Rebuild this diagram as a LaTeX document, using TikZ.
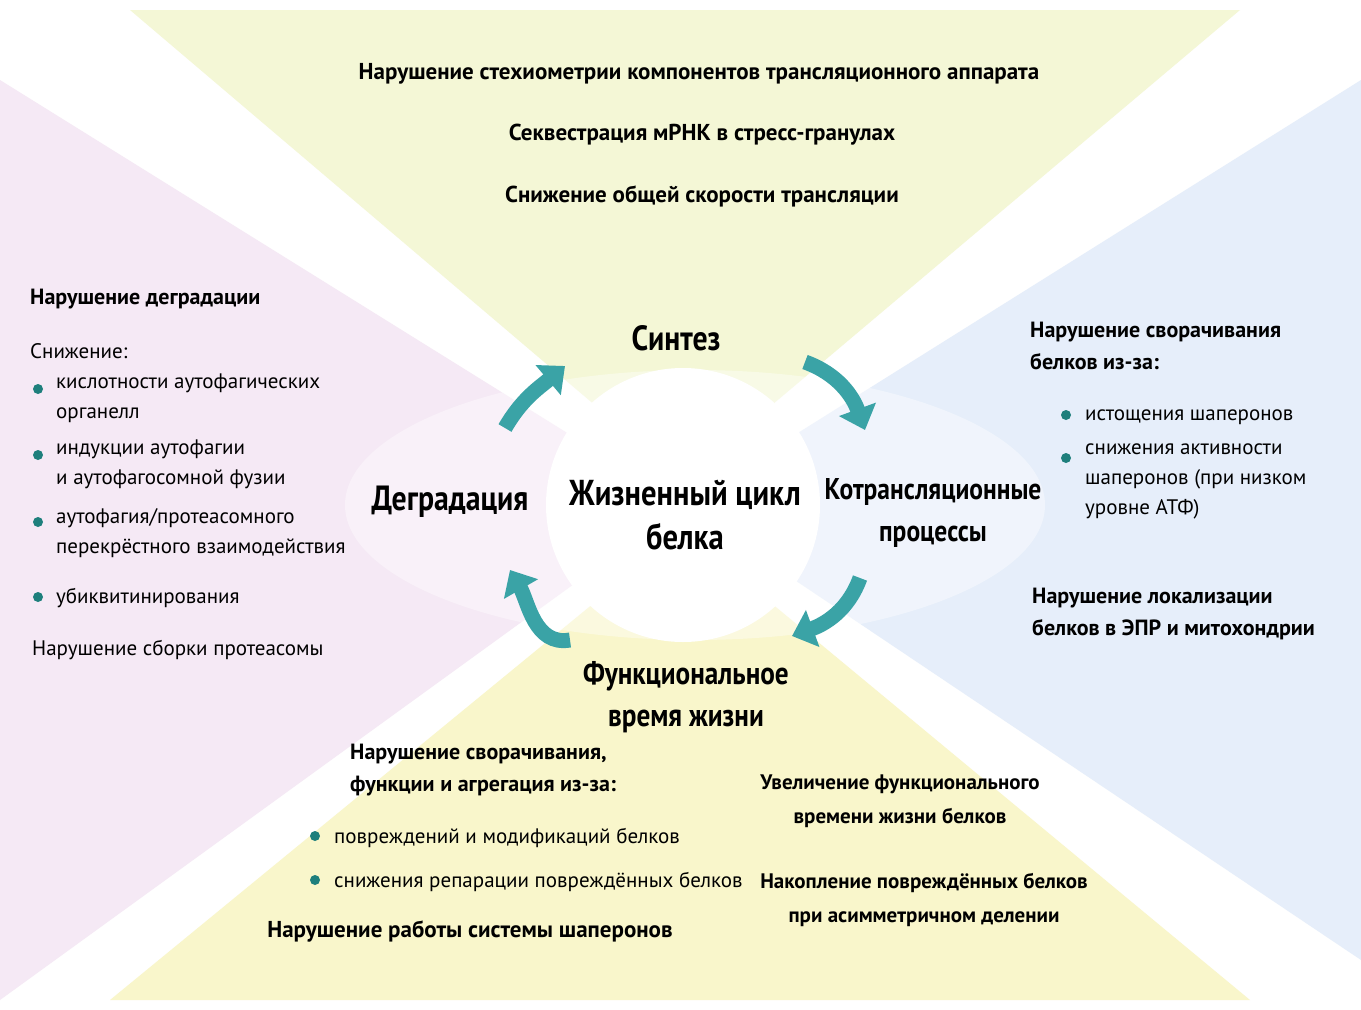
\documentclass[tikz,border=0pt]{standalone}
\usepackage{fontspec}
\setmainfont{PT Sans}
\newfontfamily\narrowf[FakeStretch=0.85]{PT Sans}
\usetikzlibrary{arrows.meta}
\definecolor{teal1}{HTML}{3AA3A6}
\definecolor{dot}{HTML}{1E7F7C}
\definecolor{topc}{HTML}{F4F7D6}
\definecolor{leftc}{HTML}{F5E9F5}
\definecolor{rightc}{HTML}{E6EEFA}
\definecolor{botc}{HTML}{F9F6CB}
\begin{document}
\begin{tikzpicture}[x=1pt,y=-1pt,
  t/.style={font=\bfseries\fontsize{23}{28}\selectfont,align=center,inner sep=0},
  h/.style={font=\narrowf\bfseries\fontsize{35}{40}\selectfont,align=center,inner sep=0},
  b/.style={font=\fontsize{21}{30}\selectfont,align=left,anchor=west,inner sep=0},
  bl/.style={font=\bfseries\fontsize{22}{32}\selectfont,align=left,anchor=west,inner sep=0},
  d/.style={circle,fill=dot,inner sep=0,minimum size=10pt},
  arr/.style={teal1,line width=15pt,-{Triangle[length=22pt,width=38pt]}}]
\useasboundingbox (0,0) rectangle (1361,1010);
\fill[white] (0,0) rectangle (1361,1010);
\fill[topc] (130,10) -- (1240,10) -- (683,480) -- cycle;
\fill[leftc] (0,80) -- (0,1000) -- (683,505) -- cycle;
\fill[rightc] (1361,80) -- (1361,960) -- (683,505) -- cycle;
\fill[botc] (110,1000) -- (1250,1000) -- (683,530) -- cycle;
\fill[white,opacity=0.4] (695,505) ellipse (350 and 135);
\node[circle,fill=white,minimum size=274pt] (c) at (683,505) {};
\node[h,font=\narrowf\bfseries\fontsize{36}{44}\selectfont] (life) at (685,515) {Жизненный цикл\\белка};
\node[h] (syn) at (676,338) {Синтез};
\node[h] (deg) at (450,502) {Деградация};
\node[h,font=\narrowf\bfseries\fontsize{30}{42}\selectfont] (cot) at (933,513) {Котрансляционные\\процессы};
\node[h,font=\narrowf\bfseries\fontsize{32}{42}\selectfont] (fun) at (686,697) {Функциональное\\время жизни};
\draw[arr] (505,428) to[out=60,in=220] (565,366);
\draw[arr] (805,362) to[out=-20,in=110] (865,430);
\draw[arr] (860,578) to[out=250,in=20] (792,636);
\draw[arr] (570,640) to[out=190,in=-60] (510,570);
\node[t] (t1) at (699,74) {Нарушение стехиометрии компонентов трансляционного аппарата};
\node[t] (t2) at (702,135) {Секвестрация мРНК в стресс-гранулах};
\node[t] (t3) at (702,196) {Снижение общей скорости трансляции};
\node[bl] (l0) at (30,299) {Нарушение деградации};
\node[b] (l1) at (30,351) {Снижение:};
\node[d] at (38,389) {}; \node[b,anchor=north west] (l2) at (56,374) {кислотности аутофагических\\органелл};
\node[d] at (38,455) {}; \node[b,anchor=north west] (l3) at (56,440) {индукции аутофагии\\и аутофагосомной фузии};
\node[d] at (38,522) {}; \node[b,anchor=north west] (l4) at (56,508) {аутофагия/протеасомного\\перекрёстного взаимодействия};
\node[d] at (38,597) {}; \node[b] (l5) at (56,598) {убиквитинирования};
\node[b] (l6) at (32,650) {Нарушение сборки протеасомы};
\node[bl,anchor=north west] (r0) at (1030,322) {Нарушение сворачивания\\белков из-за:};
\node[d] at (1066,415) {}; \node[b] (r1) at (1085,417) {истощения шаперонов};
\node[d] at (1066,458) {}; \node[b,anchor=north west] (r2) at (1085,444) {снижения активности\\шаперонов (при низком\\уровне АТФ)};
\node[bl,anchor=north west] (r3) at (1032,588) {Нарушение локализации\\белков в ЭПР и митохондрии};
\node[bl,anchor=north west] (b0) at (350,744) {Нарушение сворачивания,\\функции и агрегация из-за:};
\node[d] at (315,836) {}; \node[b] (b1) at (334,838) {повреждений и модификаций белков};
\node[d] at (315,880) {}; \node[b] (b2) at (334,882) {снижения репарации повреждённых белков};
\node[t] (b3) at (470,931) {Нарушение работы системы шаперонов};
\node[t,font=\bfseries\fontsize{21}{34}\selectfont] (b4) at (900,801) {Увеличение функционального\\времени жизни белков};
\node[t,font=\bfseries\fontsize{21}{34}\selectfont] (b5) at (924,900) {Накопление повреждённых белков\\при асимметричном делении};
\end{tikzpicture}
\end{document}
